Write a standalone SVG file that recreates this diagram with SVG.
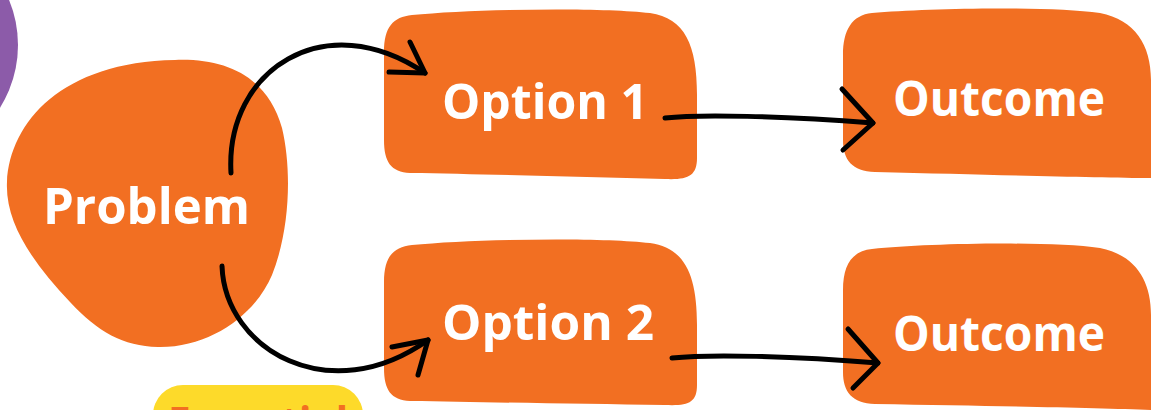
<svg xmlns="http://www.w3.org/2000/svg" width="1151" height="410" viewBox="0 0 1151 410">
<style>
.node{fill:#f26f22}
.lbl{fill:#ffffff;font-family:"Open Sans","Noto Sans",sans-serif;font-weight:700}
.con{fill:none;stroke:#000;stroke-width:5;stroke-linecap:round;stroke-linejoin:round}
</style>
<rect width="1151" height="410" fill="#ffffff"/>
<g id="deco">
<circle cx="-100" cy="45" r="118" fill="#8c5ba9"/>
<rect x="153" y="385" width="210" height="70" rx="30" fill="#fdda2a"/>
<text x="168" y="443" font-family="'Open Sans','Noto Sans',sans-serif" font-weight="700" font-size="50" fill="#f26f22" textLength="180" lengthAdjust="spacingAndGlyphs">Essential</text>
</g>
<g id="problem">
<path class="node" d="M175 60 C228 58 268 78 282 128 C292 170 290 230 272 275 C255 315 210 348 158 347 C123 346 98 332 70 302 C32 262 5 222 7 182 C10 122 62 62 175 60 Z"/>
<text class="lbl" x="43" y="224" font-size="50" textLength="207" lengthAdjust="spacingAndGlyphs">Problem</text>
</g>
<g id="option1">
<path class="node" d="M412 15 C470 9 600 7 650 13 C685 18 697 45 697 95 L697 158 C697 176 688 180 665 179 C580 177 480 174 410 173 C391 172 384 162 384 140 L384 52 C384 27 393 17 412 15 Z"/>
<text class="lbl" x="442" y="119" font-size="48" textLength="206" lengthAdjust="spacingAndGlyphs">Option 1</text>
</g>
<g id="option2">
<path class="node" d="M412 245 C470 239 600 237 650 243 C685 248 697 275 697 325 L697 385 C697 403 688 406 665 405 C580 404 480 402 410 401 C391 400 384 390 384 368 L384 282 C384 257 393 247 412 245 Z"/>
<text class="lbl" x="442" y="340" font-size="48" textLength="212" lengthAdjust="spacingAndGlyphs">Option 2</text>
</g>
<g id="outcome1">
<path class="node" d="M872 13 C930 8 1050 6 1100 13 C1135 20 1151 45 1151 80 L1151 178 C1100 178 1000 175 875 172 C852 171 843 160 843 140 L843 55 C843 30 852 15 872 13 Z"/>
<text class="lbl" x="893" y="116" font-size="48" textLength="212" lengthAdjust="spacingAndGlyphs">Outcome</text>
</g>
<g id="outcome2">
<path class="node" d="M872 249 C930 243 1050 241 1100 248 C1135 255 1151 280 1151 315 L1151 410 C1100 408 1000 406 875 404 C852 403 843 392 843 372 L843 290 C843 265 852 251 872 249 Z"/>
<text class="lbl" x="893" y="351" font-size="48" textLength="212" lengthAdjust="spacingAndGlyphs">Outcome</text>
</g>
<g id="connectors">
<path class="con" d="M231 173 C225 70 325 5 425 73"/>
<path class="con" d="M410 42 L425 73 L389 72"/>
<path class="con" d="M222 266 C225 350 330 410 428 340"/>
<path class="con" d="M392 347 L428 340 L418 375"/>
<path class="con" stroke-width="6" d="M665 118 C700 114 780 116 873 123"/>
<path class="con" stroke-width="6" d="M842 89 L873 123 L843 150"/>
<path class="con" stroke-width="6" d="M672 358 C710 354 790 356 878 363"/>
<path class="con" stroke-width="6" d="M848 329 L878 363 L853 388"/>
</g>
</svg>
